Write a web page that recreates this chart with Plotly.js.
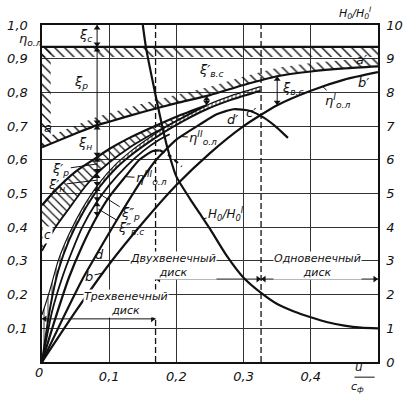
<!DOCTYPE html>
<html><head><meta charset="utf-8">
<script src="https://cdn.plot.ly/plotly-3.0.1.min.js"></script>
<style>html,body{margin:0;padding:0;background:#fff;}#chart{width:414px;height:394px;}</style>
</head><body><div id="chart"></div>
<script>
// ---------------- data ----------------
const xTickVals = [0.1, 0.2, 0.3, 0.4];
const xTickText = ['0,1', '0,2', '0,3', '0,4'];
const yTickVals = [0.1, 0.2, 0.3, 0.4, 0.5, 0.6, 0.7, 0.8, 0.9, 1.0];
const yTickText = ['0,1', '0,2', '0,3', '0,4', '0,5', '0,6', '0,7', '0,8', '0,9', '1,0'];
const y2TickVals = [0, 1, 2, 3, 4, 5, 6, 7, 8, 9, 10];
const y2TickText = ['0', '1', '2', '3', '4', '5', '6', '7', '8', '9', '10'];

const nozzleLevel = 0.935;                 // 1 - ξс
const u_a   = [0, 0.05, 0.082, 0.1, 0.15, 0.2, 0.25, 0.3, 0.35, 0.4, 0.45, 0.5];
const eta_a = [0.637, 0.678, 0.703, 0.713, 0.742, 0.768, 0.792, 0.822, 0.848, 0.862, 0.871, 0.877];

const u_I   = [0, 0.05, 0.1, 0.15, 0.2, 0.25, 0.3, 0.35, 0.4, 0.45, 0.5];
const eta_I = [0, 0.15, 0.29, 0.413, 0.525, 0.62, 0.70, 0.762, 0.805, 0.838, 0.86];

const u_II   = [0, 0.03, 0.06, 0.092, 0.12, 0.15, 0.17, 0.2, 0.235, 0.26, 0.285, 0.31, 0.33, 0.35, 0.366];
const eta_II = [0, 0.125, 0.245, 0.356, 0.45, 0.545, 0.60, 0.66, 0.705, 0.735, 0.75, 0.745, 0.725, 0.695, 0.665];

const u_III   = [0, 0.02, 0.04, 0.06, 0.08, 0.1, 0.124, 0.145, 0.165, 0.175];
const eta_III = [0, 0.13, 0.25, 0.345, 0.425, 0.49, 0.55, 0.6, 0.626, 0.628];
const u_IIIext   = [0.175, 0.19, 0.208];
const eta_IIIext = [0.628, 0.612, 0.58];

const u_E   = [0, 0.015, 0.03, 0.045, 0.06, 0.08, 0.1, 0.125, 0.15, 0.175, 0.19];
const eta_E = [0, 0.15, 0.25, 0.33, 0.40, 0.47, 0.525, 0.58, 0.625, 0.66, 0.676];

const u_c        = [0, 0.012, 0.024, 0.04, 0.06, 0.086, 0.11, 0.13, 0.15, 0.18, 0.21, 0.245, 0.28, 0.325];
const eta_c      = [0, 0.16, 0.27, 0.36, 0.44, 0.52, 0.575, 0.61, 0.64, 0.68, 0.715, 0.75, 0.777, 0.805];
const eta_cUpper = [0.14, 0.215, 0.30, 0.378, 0.455, 0.533, 0.587, 0.622, 0.652, 0.692, 0.727, 0.762, 0.789, 0.817];

const u_U2   = [0, 0.02, 0.05, 0.08, 0.1, 0.13, 0.16, 0.2, 0.245];
const eta_U2 = [0.465, 0.51, 0.565, 0.605, 0.632, 0.665, 0.693, 0.728, 0.762];
const u_L2   = [0, 0.02, 0.04, 0.064, 0.08, 0.1, 0.13, 0.16, 0.2, 0.245];
const eta_L2 = [0.33, 0.40, 0.455, 0.52, 0.556, 0.592, 0.636, 0.672, 0.715, 0.762];

const u_H     = [0.150, 0.155, 0.165, 0.175, 0.186, 0.2, 0.22, 0.235, 0.25, 0.275, 0.3, 0.326, 0.35, 0.375, 0.4, 0.425, 0.45, 0.475, 0.5];
const H_ratio = [10, 9.3, 8.3, 7.35, 6.4, 5.5, 4.85, 4.4, 3.95, 3.15, 2.5, 2.05, 1.72, 1.5, 1.33, 1.18, 1.08, 1.02, 1.0];

const stageLimits = [0.169, 0.326];        // three/two-row and two/one-row boundaries
const stageNames = ['Трехвенечный<br>диск', 'Двухвенечный<br>диск', 'Одновенечный<br>диск'];

// ---------------- helpers ----------------
function interp(xs, ys, x) {
  for (let i = 0; i < xs.length - 1; i++) {
    if (x >= xs[i] && x <= xs[i + 1]) {
      return ys[i] + (ys[i + 1] - ys[i]) * (x - xs[i]) / (xs[i + 1] - xs[i]);
    }
  }
  return ys[ys.length - 1];
}
const K = '#111';
const FONT = 'DejaVu Sans';
const thick = {color: K, width: 2.2};
function curve(x, y, w, dash, yaxis) {
  return {type: 'scatter', mode: 'lines', x: x, y: y, yaxis: yaxis || 'y',
          line: {color: K, width: w || 2.2, dash: dash || 'solid', shape: 'spline', smoothing: 0.6},
          hoverinfo: 'skip', showlegend: false};
}
function hatch(x, y, shape, size) {
  return {type: 'scatter', mode: 'lines', x: x, y: y, fill: 'toself',
          line: {width: 0, color: 'rgba(0,0,0,0)'}, fillcolor: 'rgba(0,0,0,0)',
          fillpattern: {shape: shape, size: size, solidity: 0.2, fgcolor: K, bgcolor: 'rgba(255,255,255,0)'},
          hoverinfo: 'skip', showlegend: false};
}

const traces = [];
// double-headed dimension arrows drawn as line + triangle heads
const PXX = 0.5 / 336, PXY = 1 / 337, HEAD = 3;
function dblArrow(x0, y0, x1, y1) {
  traces.push({type: 'scatter', mode: 'lines', x: [x0, x1], y: [y0, y1],
    line: {color: K, width: 1}, hoverinfo: 'skip', showlegend: false});
  let mx, my, sym;
  if (x0 === x1) {           // vertical
    const up = y0 > y1 ? [y0, y1] : [y1, y0];
    mx = [x0, x0]; my = [up[0] - HEAD * PXY, up[1] + HEAD * PXY]; sym = ['triangle-up', 'triangle-down'];
  } else {                   // horizontal
    const lr = x0 < x1 ? [x0, x1] : [x1, x0];
    mx = [lr[0] + HEAD * PXX, lr[1] - HEAD * PXX]; my = [y0, y0]; sym = ['triangle-left', 'triangle-right'];
  }
  traces.push({type: 'scatter', mode: 'markers', x: mx, y: my,
    marker: {symbol: sym, size: 6, color: K}, hoverinfo: 'skip', showlegend: false});
}

// hatched band under the nozzle-loss line
const bandTop = 0.03;
traces.push(hatch([0, 0.5, 0.5, 0], [nozzleLevel, nozzleLevel, nozzleLevel - bandTop, nozzleLevel - bandTop], '\\', 7));
// hatched band above curve a
const bandA = 0.025;
traces.push(hatch(u_a.concat(u_a.slice().reverse()),
                  eta_a.map(v => v + bandA).concat(eta_a.slice().reverse()), '\\', 7));
// hatched strip along the left axis
const stripW = 0.013;
traces.push(hatch([0, stripW, stripW, 0], [eta_a[0], eta_a[0] + 0.02, nozzleLevel, nozzleLevel], '\\', 7));
// ξ'p band
traces.push(hatch(u_U2.concat(u_L2.slice().reverse()), eta_U2.concat(eta_L2.slice().reverse()), '\\', 6));
// c-c' ladder band
traces.push(hatch(u_c.concat(u_c.slice().reverse()), eta_cUpper.concat(eta_c.slice().reverse()), '|', 4));

// stage boundaries (dashed)
stageLimits.forEach(b => traces.push({type: 'scatter', mode: 'lines', x: [b, b], y: [0, 1],
  line: {color: K, width: 1.3, dash: '6px,3px'}, hoverinfo: 'skip', showlegend: false}));

// curves
traces.push({type: 'scatter', mode: 'lines', x: [0, 0.5], y: [nozzleLevel, nozzleLevel], line: thick, hoverinfo: 'skip', showlegend: false});
traces.push(curve(u_a, eta_a));
traces.push(curve(u_I, eta_I));
traces.push(curve(u_II, eta_II));
traces.push(curve(u_III, eta_III));
traces.push(curve(u_IIIext, eta_IIIext, 2.2, '5px,4px'));
traces.push(curve(u_E, eta_E, 1.8));
traces.push(curve(u_c, eta_c, 2.0));
traces.push(curve(u_c, eta_cUpper, 1.2));
traces.push(curve(u_U2, eta_U2, 2.2));
traces.push(curve(u_L2, eta_L2, 1.8));
traces.push(curve(u_H, H_ratio, 2.2, 'solid', 'y2'));

// ---------------- annotations ----------------
const ann = [];
const tf = (s) => ({family: FONT, size: s || 12, color: K, style: 'italic'});
function txt(x, y, t, s, extra) {
  ann.push(Object.assign({x: x, y: y, xref: 'x', yref: 'y', text: t, showarrow: false, font: tf(s)}, extra || {}));
}
function leader(tx, ty, px, py, t, s, yref) {
  ann.push({x: px, y: py, ax: tx, ay: ty, xref: 'x', yref: yref || 'y', axref: 'x', ayref: yref || 'y',
    text: t, showarrow: true, arrowhead: 0, arrowwidth: 1, arrowcolor: K, font: tf(s), standoff: 0});
}

// loss column
const col = 0.082;
const levels = [1.0, nozzleLevel, interp(u_a, eta_a, col), interp(u_U2, eta_U2, col), interp(u_L2, eta_L2, col),
                interp(u_c, eta_cUpper, col), interp(u_E, eta_E, col), interp(u_III, eta_III, col)];
for (let i = 0; i < levels.length - 1; i++) dblArrow(col, levels[i], col, levels[i + 1]);

txt(0.065, 0.968, 'ξ<sub>с</sub>', 13);
txt(0.058, 0.83, 'ξ<sub>р</sub>', 13);
txt(0.064, 0.648, 'ξ<sub>н</sub>', 13);
leader(0.028, 0.572, col, interp(u_U2, eta_U2, col) - 0.02, 'ξ′<sub>р</sub>', 13);
leader(0.022, 0.525, col, interp(u_L2, eta_L2, col) - 0.02, 'ξ′<sub>н</sub>', 13);
leader(0.132, 0.44, col + 0.004, (levels[5] + levels[6]) / 2, 'ξ″<sub>р</sub>', 13);
leader(0.133, 0.395, col + 0.002, (levels[6] + levels[7]) / 2, 'ξ″<sub>в.с</sub>', 13);

// exit-velocity loss arrows
const xs1 = 0.35;
dblArrow(xs1, interp(u_a, eta_a, xs1), xs1, interp(u_I, eta_I, xs1));
txt(0.373, 0.812, 'ξ<sub>в.с</sub>', 13);
const xs2 = 0.245;
dblArrow(xs2, interp(u_a, eta_a, xs2), xs2, interp(u_c, eta_cUpper, xs2));
txt(0.252, 0.866, 'ξ′<sub>в.с</sub>', 13);

// curve letters
txt(0.009, 0.697, 'a', 13);
txt(0.475, 0.897, 'a′', 13);
txt(0.479, 0.83, 'b′', 13);
txt(0.311, 0.739, 'c′', 13);
txt(0.284, 0.72, 'd′', 13);
txt(0.008, 0.377, 'c', 12, {bgcolor: '#fff'});
leader(0.085, 0.318, 0.09, interp(u_II, eta_II, 0.09) - 0.005, 'd', 13);
leader(0.07, 0.255, 0.092, interp(u_I, eta_I, 0.092) - 0.003, 'b', 13);

// efficiency curve names
leader(0.163, 0.545, 0.124, interp(u_III, eta_III, 0.124), 'η<sup>III</sup><sub>о.л</sub>', 13);
leader(0.24, 0.665, 0.207, interp(u_II, eta_II, 0.207), 'η<sup>II</sup><sub>о.л</sub>', 13);
leader(0.44, 0.775, 0.418, interp(u_I, eta_I, 0.418), 'η<sup>I</sup><sub>о.л</sub>', 13);
leader(0.274, 4.4, 0.24, interp(u_H, H_ratio, 0.24), 'H<sub>0</sub>/H<sub>0</sub><sup>I</sup>', 12, 'y2');

// stage ranges
const rangeY = [0.128, 0.246, 0.246];
dblArrow(0, rangeY[0], stageLimits[0], rangeY[0]);
dblArrow(stageLimits[0], rangeY[1], stageLimits[1], rangeY[1]);
dblArrow(stageLimits[1], rangeY[2], 0.5, rangeY[2]);
txt(0.125, 0.173, stageNames[0], 11, {bgcolor: '#fff', borderpad: 0});
txt(0.195, 0.287, stageNames[1], 11, {bgcolor: '#fff', borderpad: 0});
txt(0.41, 0.287, stageNames[2], 11, {bgcolor: '#fff', borderpad: 0});

// axis captions
ann.push({xref: 'paper', yref: 'paper', x: -0.07, y: 0.928, yanchor: 'bottom', text: 'η<sub>о.л</sub>', showarrow: false, font: tf(13), borderpad: 0});
ann.push({xref: 'paper', yref: 'paper', x: 0.985, y: 1.062, yanchor: 'top', text: 'H<sub>0</sub>/H<sub>0</sub><sup>I</sup>', showarrow: false, font: tf(11), borderpad: 0});
ann.push({xref: 'paper', yref: 'paper', x: -0.027, y: -0.03, yanchor: 'middle', text: '0', showarrow: false, font: tf(13)});
ann.push({xref: 'paper', yref: 'paper', x: 0.957, y: -0.04, yanchor: 'bottom', text: 'u', showarrow: false, font: tf(12), borderpad: 0});
ann.push({xref: 'paper', yref: 'paper', x: 0.962, y: -0.05, yanchor: 'top', text: 'c<sub>ф</sub>', showarrow: false, font: tf(11), borderpad: 0});

const layout = {
  width: 414, height: 394,
  margin: {l: 42, r: 36, t: 25, b: 32, pad: 0},
  paper_bgcolor: '#fff', plot_bgcolor: '#fff',
  showlegend: false,
  xaxis: {range: [0, 0.5], tickvals: xTickVals, ticktext: xTickText, showgrid: true, gridcolor: '#333', gridwidth: 1,
          zeroline: false, showline: true, linecolor: K, linewidth: 1.6, mirror: true, ticks: '', ticklen: 0,
          tickfont: tf(13), ticklabelstandoff: 2},
  yaxis: {range: [0, 1], tickvals: yTickVals, ticktext: yTickText, showgrid: true, gridcolor: '#333', gridwidth: 1,
          zeroline: false, showline: true, linecolor: K, linewidth: 1.6, mirror: true, ticks: '', ticklen: 0,
          tickfont: tf(13), ticklabelstandoff: 10},
  yaxis2: {range: [0, 10], overlaying: 'y', side: 'right', tickvals: y2TickVals, ticktext: y2TickText,
           showgrid: false, zeroline: false, showline: true, linecolor: K, linewidth: 1.6, ticks: '', ticklen: 0,
           tickfont: tf(13), ticklabelstandoff: 4},
  shapes: [{type: 'line', xref: 'paper', yref: 'paper', x0: 0.93, x1: 0.99, y0: -0.045, y1: -0.045, line: {color: K, width: 1}}],
  annotations: ann
};
Plotly.newPlot('chart', traces, layout, {staticPlot: true, displayModeBar: false});
</script></body></html>
